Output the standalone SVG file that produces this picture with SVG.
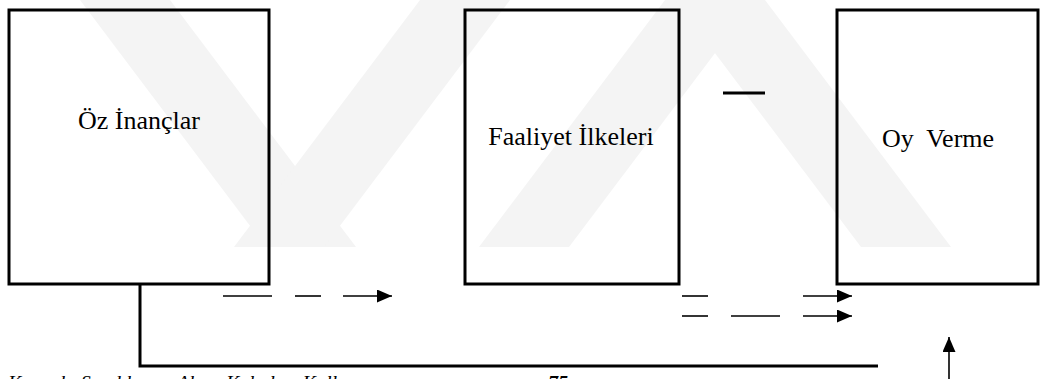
<svg xmlns="http://www.w3.org/2000/svg" width="1041" height="379" viewBox="0 0 1041 379">
<defs>
<style>
.box{fill:none;stroke:#000;stroke-width:3}
.lbl{font-family:"Liberation Serif","Times New Roman",serif;font-size:26px;fill:#000}
.thin{stroke:#000;stroke-width:1.6;fill:none}
.thick{stroke:#000;stroke-width:3;fill:none}
.wm{fill:#f4f4f4}
</style>
<marker id="ah" viewBox="0 0 15 13" refX="15" refY="6.5" markerWidth="15" markerHeight="13" markerUnits="userSpaceOnUse" orient="auto">
<path d="M0,0 L15,6.5 L0,13 Z" fill="#000"/>
</marker>
</defs>
<rect width="1041" height="379" fill="#fff"/>
<g id="watermark">
<polygon class="wm" points="80,0 170,0 356,247 266,247"/>
<polygon class="wm" points="420,0 510,0 324,247 234,247"/>
<polygon class="wm" points="665,0 755,0 569,247 479,247"/>
<polygon class="wm" points="675,0 765,0 951,247 861,247"/>
</g>
<g id="node-oz">
<rect class="box" x="9" y="10" width="260" height="274"/>
<text class="lbl" x="139" y="129" text-anchor="middle">Öz İnançlar</text>
</g>
<g id="node-faaliyet">
<rect class="box" x="465" y="10" width="214" height="274"/>
<text class="lbl" x="571" y="145" text-anchor="middle">Faaliyet İlkeleri</text>
</g>
<g id="node-oy">
<rect class="box" x="837" y="10" width="201" height="274"/>
<text class="lbl" x="938" y="147" text-anchor="middle" xml:space="preserve">Oy  Verme</text>
</g>
<g id="connectors">
<line class="thick" x1="723" y1="93" x2="765" y2="93"/>
<polyline class="thick" points="140,284 140,366 878,366"/>
<line class="thin" x1="223" y1="296" x2="272" y2="296"/>
<line class="thin" x1="295" y1="296" x2="321" y2="296"/>
<line class="thin" x1="343" y1="296" x2="392" y2="296" marker-end="url(#ah)"/>
<line class="thin" x1="682" y1="296" x2="708" y2="296"/>
<line class="thin" x1="803" y1="296" x2="852" y2="296" marker-end="url(#ah)"/>
<line class="thin" x1="682" y1="316" x2="708" y2="316"/>
<line class="thin" x1="731" y1="316" x2="780" y2="316"/>
<line class="thin" x1="803" y1="316" x2="852" y2="316" marker-end="url(#ah)"/>
<line class="thin" x1="949" y1="380" x2="949" y2="337" marker-end="url(#ah)"/>
</g>
<text x="8" y="390" font-family="'Liberation Serif','Times New Roman',serif" font-size="20" font-style="italic" fill="#000">Kaynak: Sandıkçı ve Aksu, Kabul ve Kullanım <tspan x="548" font-weight="bold">75</tspan></text>
</svg>
